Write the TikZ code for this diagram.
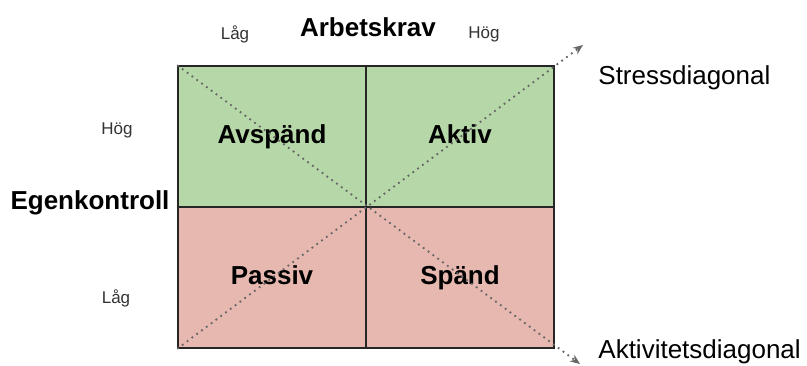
\documentclass[tikz,border=0pt]{standalone}
\usepackage{fontspec}
\setmainfont{Liberation Sans}
\usetikzlibrary{arrows.meta}
\definecolor{hogkontroll}{HTML}{B6D7A8}
\definecolor{lagkontroll}{HTML}{E6B8AF}

\begin{document}
\begin{tikzpicture}[x=0.5pt,y=-0.5pt,
    every node/.style={font=\fontsize{13}{15}\selectfont,inner sep=0pt},
    cell/.style={draw=black!85,line width=0.8pt,minimum width=94pt,minimum height=70.5pt,
      text height=0.716em,text depth=0pt,font=\fontsize{13}{15}\selectfont\bfseries},
    niva/.style={font=\fontsize{8.5}{10}\selectfont,text=black!80},
    diag/.style={black!60,line width=0.9pt,dash pattern=on 0.9pt off 2.1pt,-{Stealth[length=5pt,width=4pt]}}]
  \useasboundingbox (0,0) rectangle (807,365);
  % Hög egenkontroll
  \node[cell,fill=hogkontroll] (avspand) at (272,136.5) {Avspänd};
  \node[cell,fill=hogkontroll] (aktiv) at (460,136.5) {Aktiv};
  % Låg egenkontroll
  \node[cell,fill=lagkontroll] (passiv) at (272,277.5) {Passiv};
  \node[cell,fill=lagkontroll] (spand) at (460,277.5) {Spänd};
  % Diagonaler
  \coordinate (stresspil) at (583,45);
  \coordinate (aktivpil) at (580,364);
  \draw[diag] (passiv.south west) -- (stresspil);
  \draw[diag] (avspand.north west) -- (aktivpil);
  \node[anchor=west] (stress) at (598,78) {Stressdiagonal};
  \node[anchor=west] (aktivitet) at (598,352) {Aktivitetsdiagonal};
  % Arbetskrav
  \node[font=\fontsize{13}{15}\selectfont\bfseries] (krav) at (368,27) {Arbetskrav};
  \node[niva] (kravlag) at (235,34) {Låg};
  \node[niva] (kravhog) at (484,34) {Hög};
  % Egenkontroll
  \node[font=\fontsize{13}{15}\selectfont\bfseries] (kontroll) at (90,203) {Egenkontroll};
  \node[niva] (kontrollhog) at (117,130) {Hög};
  \node[niva] (kontrolllag) at (116,298) {Låg};
\end{tikzpicture}
\end{document}
